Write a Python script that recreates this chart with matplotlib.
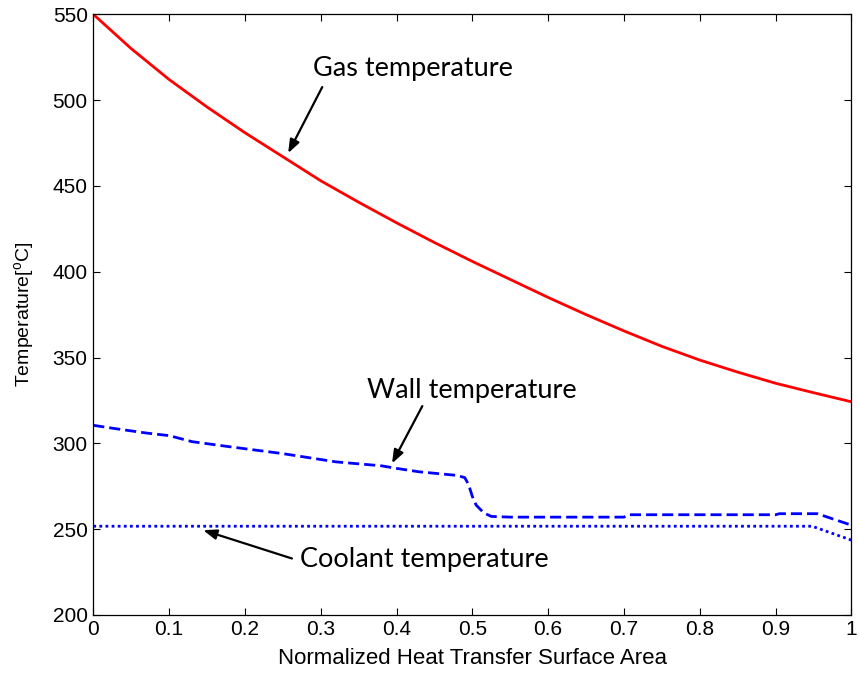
# -*- coding: utf-8 -*-

"""
Gas / wall / coolant temperature along the normalized heat transfer surface
"""

import matplotlib
matplotlib.use('Agg')
import matplotlib.pyplot as plt

matplotlib.rcParams['font.family'] = ['Liberation Sans', 'DejaVu Sans']
matplotlib.rcParams['mathtext.fontset'] = 'custom'
matplotlib.rcParams['mathtext.rm'] = 'Liberation Sans'
matplotlib.rcParams['mathtext.it'] = 'Liberation Sans:italic'

# 气体温度
gas_x = [0, 0.05, 0.1, 0.15, 0.2, 0.25, 0.3, 0.35, 0.4, 0.45, 0.5,
         0.55, 0.6, 0.65, 0.7, 0.75, 0.8, 0.85, 0.9, 0.95, 1.0]
gas_t = [550, 530, 512, 496, 481, 467, 453, 440.5, 428.5, 417, 406,
         395.5, 385, 375, 365.5, 356.5, 348.5, 341.5, 335, 329.5, 324.2]

# 壁面温度
wall_x = [0, 0.03, 0.07, 0.1, 0.13, 0.18, 0.25, 0.32, 0.38, 0.4, 0.43,
          0.48, 0.49, 0.495, 0.5, 0.505, 0.515, 0.525, 0.55, 0.7, 0.705,
          0.9, 0.905, 0.955, 1.0]
wall_t = [310.5, 308.5, 306, 304.5, 301, 298, 294, 289.2, 286.9, 285.4, 283.4,
          281.3, 280, 276, 269, 264, 259.5, 257.4, 257, 257, 258.4,
          258.4, 259, 259, 252.3]

# 冷却剂温度
coolant_x = [0, 0.948, 1.0]
coolant_t = [251.7, 251.7, 243.6]

x_ticks = [0, 0.1, 0.2, 0.3, 0.4, 0.5, 0.6, 0.7, 0.8, 0.9, 1]
x_tick_labels = ['0', '0.1', '0.2', '0.3', '0.4', '0.5', '0.6', '0.7', '0.8', '0.9', '1']
y_ticks = [200, 250, 300, 350, 400, 450, 500, 550]


def main():
    fig = plt.figure(figsize=(8.59, 6.81), dpi=100)
    ax = fig.add_axes([0.1086, 0.097, 0.8826, 0.882])

    ax.plot(gas_x, gas_t, color='#ff0000', lw=2.0)
    ax.plot(wall_x, wall_t, color='#0000ff', lw=2.0, linestyle=(0, (4, 1.8)))
    ax.plot(coolant_x, coolant_t, color='#0000ff', lw=2.0, linestyle=(0, (1, 1.2)))

    ax.set_xlim(0, 1)
    ax.set_ylim(200, 550)
    ax.set_xticks(x_ticks)
    ax.set_xticklabels(x_tick_labels)
    ax.set_yticks(y_ticks)
    ax.tick_params(direction='in', top=True, right=True, length=5, width=0.8,
                   labelsize=15, pad=4)
    for spine in ax.spines.values():
        spine.set_linewidth(0.9)

    ax.set_xlabel('Normalized Heat Transfer Surface Area', fontsize=16, labelpad=6)
    ax.set_ylabel('Temperature[$^{\\mathrm{o}}$C]', fontsize=14, labelpad=12)

    # 标注
    arrow = dict(arrowstyle='-|>,head_length=0.8,head_width=0.3', color='k',
                 lw=1.6, shrinkA=0, shrinkB=0)
    label_font = dict(family=['Lato', 'DejaVu Sans'], fontsize=19.5,
                      ha='left', va='baseline')
    ax.text(0.290, 514, 'Gas temperature', **label_font)
    ax.annotate('', xy=(0.257, 469.1), xytext=(0.302, 507.6), arrowprops=arrow)
    ax.text(0.361, 326.2, 'Wall temperature', **label_font)
    ax.annotate('', xy=(0.394, 288.3), xytext=(0.434, 321.7), arrowprops=arrow)
    ax.text(0.273, 228, 'Coolant temperature', **label_font)
    ax.annotate('', xy=(0.145, 249.4), xytext=(0.262, 232.9), arrowprops=arrow)

    fig.savefig('out.png', dpi=100)


if __name__ == '__main__':
    main()
